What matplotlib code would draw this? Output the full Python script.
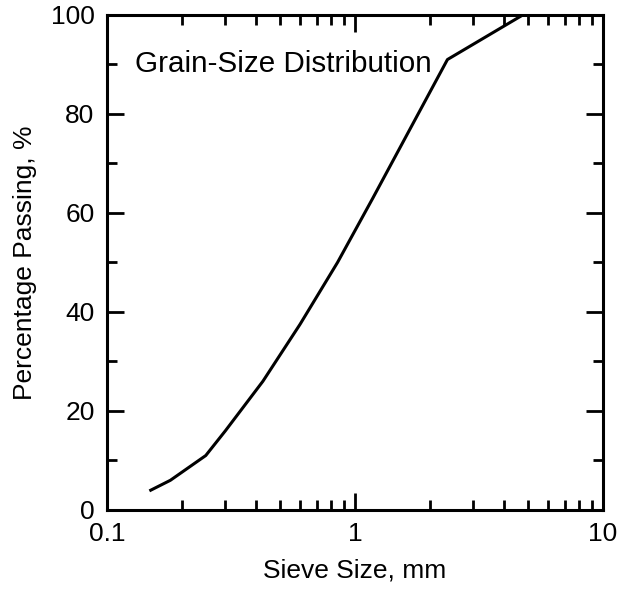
import numpy as np
import matplotlib.pyplot as plt
from matplotlib.ticker import LogLocator, FixedLocator, NullFormatter

plt.rcParams['font.family'] = ['Liberation Sans', 'DejaVu Sans']

# sieve sizes (mm) and percentage passing
sieve_mm = [0.15, 0.18, 0.25, 0.30, 0.425, 0.60, 0.85, 1.18, 2.36, 4.75]
passing = [4, 6, 11, 16, 26, 37.5, 50, 63, 91, 100]

x_ticks = [0.1, 1, 10]
x_labels = ["0.1", "1", "10"]
y_ticks = [0, 20, 40, 60, 80, 100]

fig = plt.figure(figsize=(6.19, 5.90), dpi=100)
ax = fig.add_axes([0.173, 0.1356, 0.801, 0.839])

ax.plot(sieve_mm, passing, c="k", lw=2.2)

ax.set_xscale("log")
ax.set_xlim(0.1, 10)
ax.set_ylim(0, 100)

ax.set_xticks(x_ticks)
ax.set_xticklabels(x_labels)
ax.xaxis.set_minor_locator(LogLocator(base=10, subs=np.arange(2, 10)))
ax.xaxis.set_minor_formatter(NullFormatter())
ax.set_yticks(y_ticks)
ax.yaxis.set_minor_locator(FixedLocator([10, 30, 50, 70, 90]))

ax.tick_params(which="both", direction="in", top=True, right=True,
               labelsize=19, width=2.0, colors="k")
ax.tick_params(which="major", length=12)
ax.tick_params(axis="x", which="major", pad=9)
ax.tick_params(axis="y", which="major", pad=9)
ax.tick_params(which="minor", length=7)
for s in ax.spines.values():
    s.set_linewidth(2.2)

ax.set_xlabel("Sieve Size, mm", fontsize=19, labelpad=9)
ax.set_ylabel("Percentage Passing, %", fontsize=19, labelpad=10)

ax.text(0.1297, 90, "Grain-Size Distribution", fontsize=21.3,
        ha="left", va="center")

fig.savefig("out.png", dpi=100)
